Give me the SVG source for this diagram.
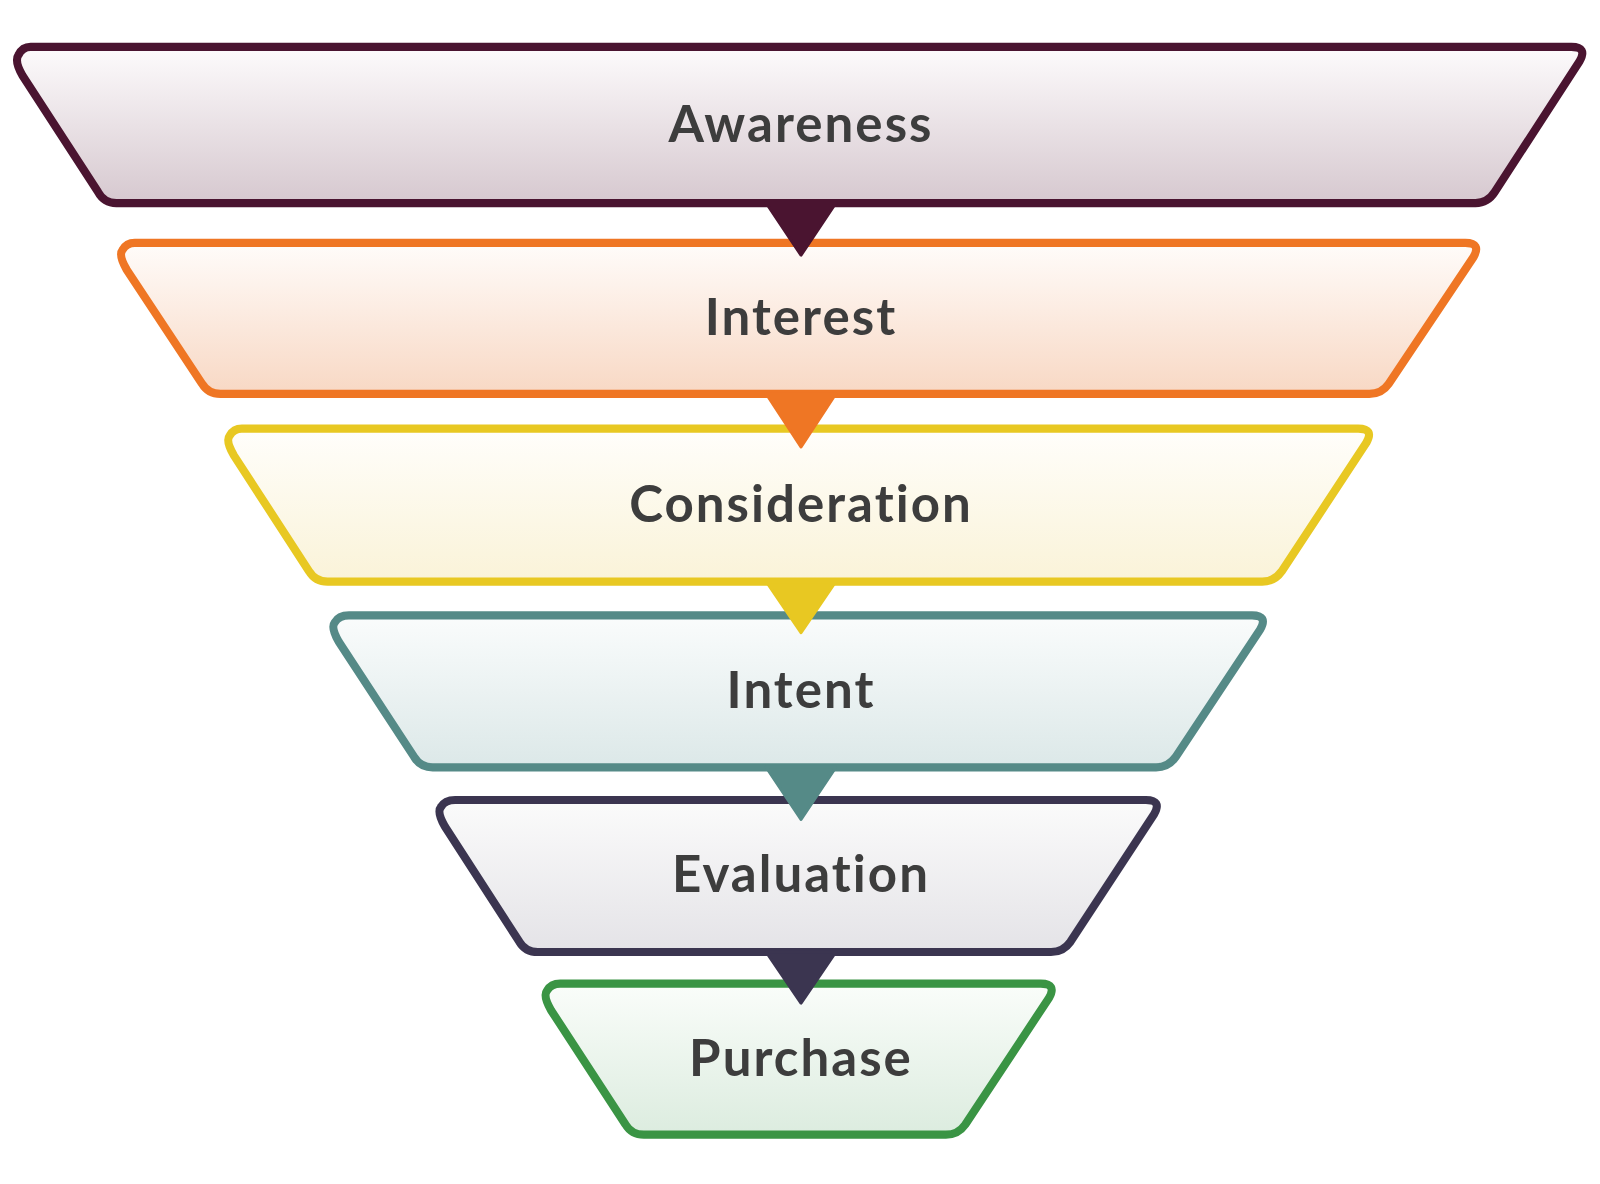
<svg xmlns="http://www.w3.org/2000/svg" width="1600" height="1184" viewBox="0 0 1600 1184">
<defs>
<linearGradient id="g1" x1="0" y1="0" x2="0" y2="1"><stop offset="0" stop-color="#fdfbfc"/><stop offset="1" stop-color="#d6c8cf"/></linearGradient>
<linearGradient id="g2" x1="0" y1="0" x2="0" y2="1"><stop offset="0" stop-color="#fffcfa"/><stop offset="1" stop-color="#f8d8c4"/></linearGradient>
<linearGradient id="g3" x1="0" y1="0" x2="0" y2="1"><stop offset="0" stop-color="#fffefb"/><stop offset="1" stop-color="#faf3d8"/></linearGradient>
<linearGradient id="g4" x1="0" y1="0" x2="0" y2="1"><stop offset="0" stop-color="#fafcfc"/><stop offset="1" stop-color="#dce8e8"/></linearGradient>
<linearGradient id="g5" x1="0" y1="0" x2="0" y2="1"><stop offset="0" stop-color="#fbfbfb"/><stop offset="1" stop-color="#e4e3e7"/></linearGradient>
<linearGradient id="g6" x1="0" y1="0" x2="0" y2="1"><stop offset="0" stop-color="#fafdfa"/><stop offset="1" stop-color="#dcecdf"/></linearGradient>
</defs>
<style>
.s{stroke-width:8;stroke-linejoin:round}
.t{font-family:Lato,"Open Sans",sans-serif;font-weight:700;font-size:50px;fill:#3d3d3d;text-anchor:middle;letter-spacing:2px}
</style>
<rect width="1600" height="1184" fill="#fff"/>
<g transform="scale(1.0204)">
<g id="awareness"><path class="s" d="M30 46H1540Q1556 46 1548 60L1465 188Q1458 199 1446 199H114Q102 199 96 188L22 74Q14 60 18 54Q22 46 30 46Z" fill="url(#g1)" stroke="#4a1430"/><text class="t" x="785" y="139">Awareness</text></g>
<g id="interest"><path class="s" d="M132 238H1436Q1452 238 1444 252L1361 376Q1354 386 1342 386H216Q204 386 198 376L124 264Q116 250 120 245Q124 238 132 238Z" fill="url(#g2)" stroke="#ef7624"/><text class="t" x="785" y="328">Interest</text></g>
<g id="consideration"><path class="s" d="M237 420H1331Q1347 420 1339 434L1256 560Q1249 570 1237 570H321Q309 570 303 560L229 446Q221 432 225 427Q229 420 237 420Z" fill="url(#g3)" stroke="#e8c822"/><text class="t" x="785" y="512">Consideration</text></g>
<g id="intent"><path class="s" d="M342 603H1227Q1243 603 1235 617L1152 742Q1145 752 1133 752H424Q412 752 406 742L332 629Q324 615 328 610Q332 603 342 603Z" fill="url(#g4)" stroke="#558a87"/><text class="t" x="785" y="694">Intent</text></g>
<g id="evaluation"><path class="s" d="M446 784H1123Q1139 784 1131 798L1049 923Q1042 933 1030 933H527Q515 933 509 923L436 810Q428 796 432 791Q436 784 446 784Z" fill="url(#g5)" stroke="#3b3550"/><text class="t" x="785" y="874">Evaluation</text></g>
<g id="purchase"><path class="s" d="M549 964H1020Q1036 964 1028 978L946 1102Q939 1112 927 1112H631Q619 1112 613 1102L540 990Q532 976 536 971Q540 964 549 964Z" fill="url(#g6)" stroke="#3a9444"/><text class="t" x="785" y="1054">Purchase</text></g>
<g id="connectors" stroke-linejoin="round" stroke-width="3">
<path d="M751 199H819L785 250Z" fill="#4a1430" stroke="#4a1430"/>
<path d="M751 386H819L785 438Z" fill="#ef7624" stroke="#ef7624"/>
<path d="M751 570H819L785 620Z" fill="#e8c822" stroke="#e8c822"/>
<path d="M751 752H819L785 803Z" fill="#558a87" stroke="#558a87"/>
<path d="M751 933H819L785 983Z" fill="#3b3550" stroke="#3b3550"/>
</g>
</g>
</svg>
